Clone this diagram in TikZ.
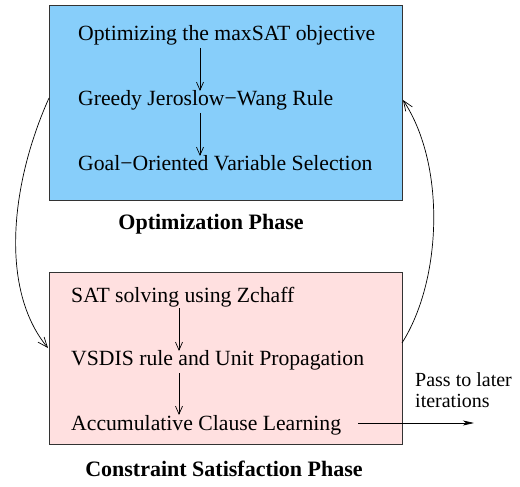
\documentclass[tikz,border=0pt]{standalone}
\usepackage{fontspec}
\setmainfont{Liberation Serif}
\usetikzlibrary{arrows.meta}
\definecolor{optblue}{RGB}{135,206,250}
\definecolor{cspink}{RGB}{255,224,224}
\tikzset{
  phasebox/.style={draw=black!80, line width=0.9pt, inner sep=0pt},
  item/.style={anchor=base west, inner sep=0pt, font=\fontsize{21.7}{25}\selectfont},
  phaselabel/.style={anchor=base, inner sep=0pt, font=\fontsize{22}{26}\selectfont\bfseries},
  flow/.style={line width=0.7pt, -{Straight Barb[length=8pt,width=7pt]}},
  loop/.style={line width=0.7pt, -{Straight Barb[length=10pt,width=8pt]}},
  passon/.style={line width=0.7pt, -{Stealth[length=11pt,width=5pt,inset=3pt]}}
}
\begin{document}
\begin{tikzpicture}[x=1pt,y=-1pt]
  \useasboundingbox (0,0) rectangle (520,487);

  % optimization phase
  \node[phasebox, fill=optblue, minimum width=353pt, minimum height=195pt] (opt) at (225.5,102.5) {};
  \node[item] (o1) at (78,41) {Optimizing the maxSAT objective};
  \node[item] (o2) at (78,106) {Greedy Jeroslow−Wang Rule};
  \node[item] (o3) at (78,171) {Goal−Oriented Variable Selection};
  \node[phaselabel] (optlabel) at (211,229) {Optimization Phase};

  \coordinate (o1b) at (200,48);
  \coordinate (o2t) at (200,91);
  \coordinate (o2b) at (200,113);
  \coordinate (o3t) at (200,156);
  \draw[flow] (o1b) -- (o2t);
  \draw[flow] (o2b) -- (o3t);

  % constraint satisfaction phase
  \node[phasebox, fill=cspink, minimum width=353pt, minimum height=172pt] (csp) at (225.5,358) {};
  \node[item] (c1) at (71,302) {SAT solving using Zchaff};
  \node[item] (c2) at (71,365) {VSDIS rule and Unit Propagation};
  \node[item] (c3) at (71,430) {Accumulative Clause Learning};
  \node[phaselabel] (csplabel) at (224,476) {Constraint Satisfaction Phase};

  \coordinate (c1b) at (179,308);
  \coordinate (c2t) at (179,351);
  \coordinate (c2b) at (179,373);
  \coordinate (c3t) at (179,415);
  \draw[flow] (c1b) -- (c2t);
  \draw[flow] (c2b) -- (c3t);

  % hand-over between the phases
  \coordinate (optout) at (49,98);
  \coordinate (cspin) at (48,348);
  \coordinate (cspout) at (402,343);
  \coordinate (optin) at (403,100);
  \draw[loop] (optout) .. controls (10,185) and (0,290) .. (cspin);
  \draw[loop] (cspout) .. controls (442,280) and (446,165) .. (optin);

  % learned clauses carried forward
  \node[anchor=base west, inner sep=0pt, align=left, font=\fontsize{20}{21}\selectfont] (pass) at (415,407) {Pass to later\\iterations};
  \coordinate (passstart) at (358,423);
  \coordinate (passend) at (474,423);
  \draw[passon] (passstart) -- (passend);
\end{tikzpicture}
\end{document}
